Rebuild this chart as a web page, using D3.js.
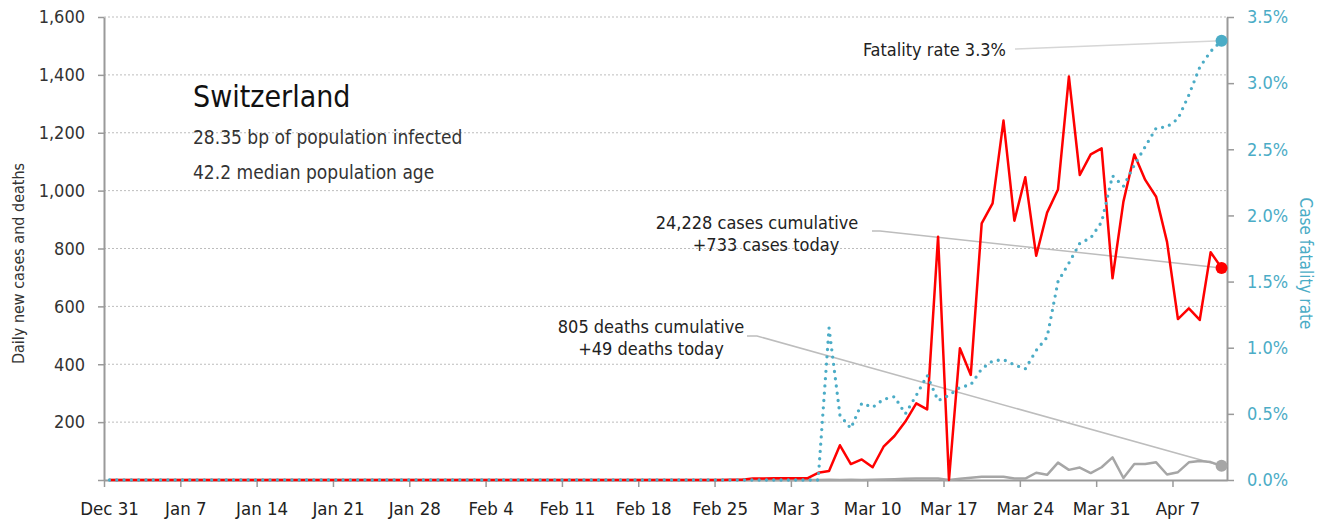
<!DOCTYPE html>
<html>
<head>
<meta charset="utf-8">
<script src="https://cdn.jsdelivr.net/npm/d3@7"></script>
<style>
  body { margin: 0; background: #fff; }
  svg text { font-family: "Liberation Sans Narrow", "DejaVu Sans Condensed", "Roboto", sans-serif; }
</style>
</head>
<body>
<svg id="chart" width="1331" height="522"></svg>
<script>
//Data (one value per day, Dec 31 -> Apr 11)
const firstDay = "2019-12-31";

const dailyCases = [
  0,0,0,0,0,0,0,0,0,0, 0,0,0,0,0,0,0,0,0,0,
  0,0,0,0,0,0,0,0,0,0, 0,0,0,0,0,0,0,0,0,0,
  0,0,0,0,0,0,0,0,0,0, 0,0,0,0,0,0,0,
  1,1,5,5,6,6,6,6,
  25,31,120,55,71,44,115,152,202,265,244,
  841,0,455,363,887,956,1242,896,1046,775,924,1004,
  1394,1054,1125,1146,697,962,1125,1037,979,823,556,593,553,787,733
];

const dailyDeaths = [
  0,0,0,0,0,0,0,0,0,0, 0,0,0,0,0,0,0,0,0,0,
  0,0,0,0,0,0,0,0,0,0, 0,0,0,0,0,0,0,0,0,0,
  0,0,0,0,0,0,0,0,0,0, 0,0,0,0,0,0,0,0,0,0,
  0,0,0,0,0,0,
  1,0,1,0,1,2,3,4,5,5,5,
  0,4,8,11,11,11,5,5,
  25,18,60,35,43,24,44,78,7,
  55,55,61,19,27,61,66,62,49
];

// case fatality rate, percent
const fatalityRate = [
  0,0,0,0,0,0,0,0,0,0, 0,0,0,0,0,0,0,0,0,0,
  0,0,0,0,0,0,0,0,0,0, 0,0,0,0,0,0,0,0,0,0,
  0,0,0,0,0,0,0,0,0,0, 0,0,0,0,0,0,0,0,0,0,
  0,0,0,0,0,0,
  1.15,0.49,0.39,0.58,0.55,0.61,0.63,0.50,0.64,0.79,
  0.60,0.64,0.70,0.72,0.84,0.90,0.91,0.87,0.84,0.98,
  1.08,1.50,1.64,1.79,1.83,1.95,2.30,2.22,2.38,2.52,
  2.66,2.67,2.73,2.91,3.12,3.24,3.32
];

const xTickDates = ["2019-12-31","2020-01-07","2020-01-14","2020-01-21","2020-01-28","2020-02-04",
  "2020-02-11","2020-02-18","2020-02-25","2020-03-03","2020-03-10","2020-03-17","2020-03-24",
  "2020-03-31","2020-04-07"];
const leftTicks = [0, 200, 400, 600, 800, 1000, 1200, 1400, 1600];
const rightTicks = [0, 0.5, 1.0, 1.5, 2.0, 2.5, 3.0, 3.5];

const country = "Switzerland";
const infoLines = ["28.35 bp of population infected", "42.2 median population age"];
const totalCases = "24,228", totalDeaths = "805";

//Layout
const plotLeft = 104, plotRight = 1227, plotTop = 17, plotBottom = 480;
const red = "#ff0000", grey = "#a6a6a6", blue = "#4bacc6", axisGrey = "#9a9a9a";

const parse = d3.utcParse("%Y-%m-%d");
const start = parse(firstDay);
const days = dailyCases.map((d, i) => d3.utcHour.offset(d3.utcDay.offset(start, i), 12));

const svg = d3.select("#chart");

//Scales
const x = d3.scaleUtc()
    .domain([start, d3.utcDay.offset(start, dailyCases.length)])
    .range([plotLeft, plotRight]);
const y = d3.scaleLinear().domain([0, 1600]).range([plotBottom, plotTop]);
const yRate = d3.scaleLinear().domain([0, 3.5]).range([plotBottom, plotTop]);

//Gridlines
svg.append("g")
    .selectAll("line")
    .data(leftTicks.filter(d => d > 0))
    .join("line")
    .attr("x1", plotLeft).attr("x2", plotRight)
    .attr("y1", d => y(d)).attr("y2", d => y(d))
    .attr("stroke", "#bdbdbd")
    .attr("stroke-width", 1)
    .attr("stroke-dasharray", "2 2");

//Axes
const styleAxis = g => {
    g.select(".domain").attr("stroke", axisGrey).attr("stroke-width", 2);
    g.selectAll(".tick line").attr("stroke", axisGrey).attr("stroke-width", 1.5);
};

svg.append("g")
    .attr("transform", `translate(0,${plotBottom})`)
    .call(d3.axisBottom(x)
        .tickValues(xTickDates.map(parse))
        .tickFormat(d3.utcFormat("%b %-d"))
        .tickSize(7).tickSizeOuter(0).tickPadding(15))
    .call(styleAxis)
    .call(g => g.selectAll("text").attr("font-size", 18.5).attr("fill", "#222").attr("dx", 5));

svg.append("g")
    .attr("transform", `translate(${plotLeft},0)`)
    .call(d3.axisLeft(y)
        .tickValues(leftTicks)
        .tickFormat(d => d === 0 ? "" : d3.format(",")(d))
        .tickSize(6).tickSizeOuter(0).tickPadding(13))
    .call(styleAxis)
    .call(g => g.selectAll("text").attr("font-size", 18).attr("fill", "#333"));

svg.append("g")
    .attr("transform", `translate(${plotRight},0)`)
    .call(d3.axisRight(yRate)
        .tickValues(rightTicks)
        .tickFormat(d => d.toFixed(1) + "%")
        .tickSize(7).tickSizeOuter(0).tickPadding(13))
    .call(styleAxis)
    .call(g => g.selectAll("text").attr("font-size", 18).attr("fill", blue));

//Axis titles
svg.append("text")
    .attr("transform", `translate(24,${(plotTop + plotBottom) / 2 + 15}) rotate(-90)`)
    .attr("text-anchor", "middle")
    .attr("font-size", 16)
    .attr("fill", "#333")
    .text("Daily new cases and deaths");

svg.append("text")
    .attr("transform", `translate(1300,${(plotTop + plotBottom) / 2 + 15}) rotate(90)`)
    .attr("text-anchor", "middle")
    .attr("font-size", 17)
    .attr("fill", blue)
    .text("Case fatality rate");

//Title block
svg.append("text")
    .attr("x", 193).attr("y", 107)
    .attr("font-size", 30)
    .attr("fill", "#111")
    .text(country);

svg.append("g")
    .selectAll("text")
    .data(infoLines)
    .join("text")
    .attr("x", 193)
    .attr("y", (d, i) => 144 + i * 34.5)
    .attr("font-size", 19)
    .attr("fill", "#333")
    .text(d => d);

//Annotations
const last = dailyCases.length - 1;
const lastX = x(days[last]);

const annoLine = d3.line();
svg.append("path")
    .attr("d", annoLine([[1015, 49], [lastX, yRate(fatalityRate[last])]]))
    .attr("fill", "none").attr("stroke", "#d6d6d6").attr("stroke-width", 1.5);
svg.append("path")
    .attr("d", annoLine([[872, 231], [880, 231], [lastX, y(dailyCases[last])]]))
    .attr("fill", "none").attr("stroke", "#bdbdbd").attr("stroke-width", 1.5);
svg.append("path")
    .attr("d", annoLine([[747, 336], [757, 336], [lastX, y(dailyDeaths[last])]]))
    .attr("fill", "none").attr("stroke", "#bdbdbd").attr("stroke-width", 1.5);

const annoText = (tx, ty, lines, anchor) => {
    svg.append("g")
        .selectAll("text")
        .data(lines)
        .join("text")
        .attr("x", tx)
        .attr("y", (d, i) => ty + i * 21.5)
        .attr("text-anchor", anchor)
        .attr("font-size", 18)
        .attr("fill", "#222")
        .text(d => d);
};
annoText(1006, 56, [`Fatality rate ${fatalityRate[last].toFixed(1)}%`], "end");
annoText(757, 229, [`${totalCases} cases cumulative`], "middle");
annoText(766, 250.5, [`+${dailyCases[last]} cases today`], "middle");
annoText(651, 333, [`${totalDeaths} deaths cumulative`, `+${dailyDeaths[last]} deaths today`], "middle");

//Lines
const lineCases = d3.line().x((d, i) => x(days[i])).y(d => y(d));
const lineRate = d3.line().x((d, i) => x(days[i])).y(d => yRate(d));

svg.append("path")
    .attr("d", lineCases(dailyDeaths))
    .attr("fill", "none").attr("stroke", grey).attr("stroke-width", 2.5)
    .attr("stroke-linejoin", "round");

svg.append("path")
    .attr("d", lineCases(dailyCases))
    .attr("fill", "none").attr("stroke", red).attr("stroke-width", 2.5)
    .attr("stroke-linejoin", "round");

svg.append("path")
    .attr("d", lineRate(fatalityRate))
    .attr("fill", "none").attr("stroke", blue).attr("stroke-width", 3.3)
    .attr("stroke-linecap", "round")
    .attr("stroke-dasharray", "0 7.3");

//End points
svg.append("circle").attr("cx", lastX).attr("cy", y(dailyDeaths[last])).attr("r", 6).attr("fill", grey);
svg.append("circle").attr("cx", lastX).attr("cy", y(dailyCases[last])).attr("r", 6).attr("fill", red);
svg.append("circle").attr("cx", lastX).attr("cy", yRate(fatalityRate[last])).attr("r", 6).attr("fill", blue);
</script>
</body>
</html>
